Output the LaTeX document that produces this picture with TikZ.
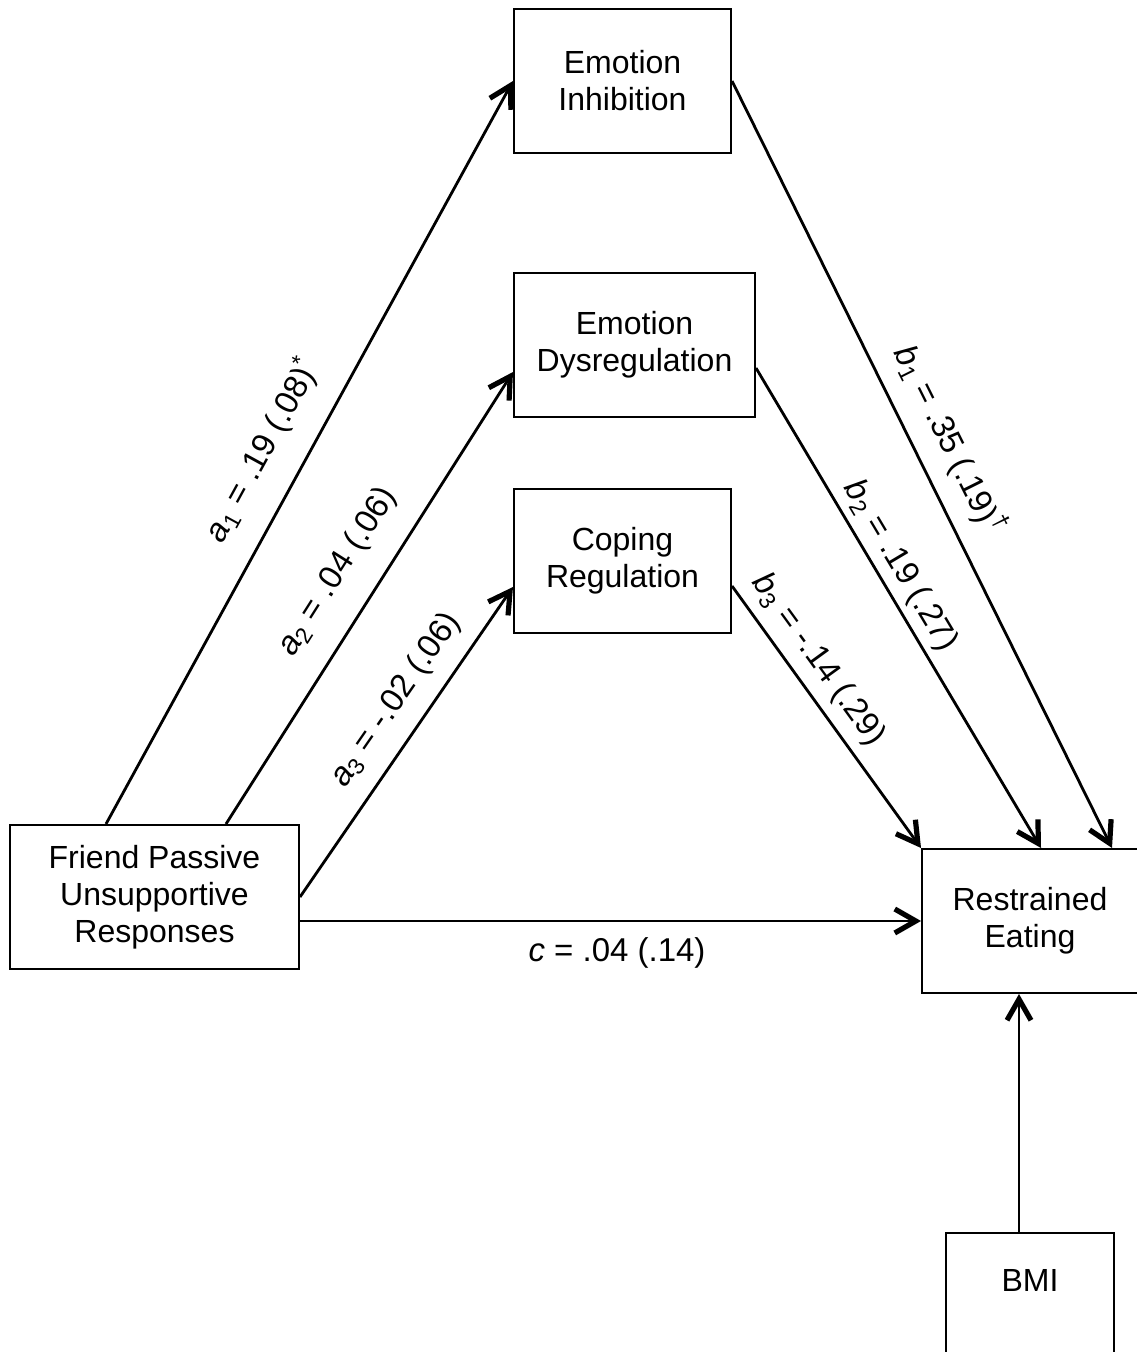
\documentclass[tikz,border=0pt]{standalone}
\usepackage{fontspec}
\setmainfont{Liberation Sans}
\usetikzlibrary{arrows.meta,calc}
\tikzset{
  box/.style={draw, line width=1pt, align=center, inner sep=0pt,
    font=\fontsize{16pt}{18.5pt}\selectfont},
  arr/.style={line width=1.4pt, -{Straight Barb[length=10.5pt,width=12pt,line width=2.6pt]}},
  lab/.style={inner sep=0pt, font=\fontsize{16.5pt}{19pt}\selectfont}
}
\begin{document}
\begin{tikzpicture}[x=0.5pt,y=-0.5pt]
\useasboundingbox (0,0) rectangle (1136,1352);
% nodes
\node[box, minimum width=108.5pt, minimum height=72pt] (ei) at (622.5,81) {Emotion\\Inhibition};
\node[box, minimum width=120.5pt, minimum height=72pt] (ed) at (634.5,345) {Emotion\\Dysregulation};
\node[box, minimum width=108.5pt, minimum height=72pt] (cr) at (622.5,561) {Coping\\Regulation};
\node[box, minimum width=144.5pt, minimum height=72pt] (fr) at (154.5,897) {Friend Passive\\Unsupportive\\Responses};
\node[box, minimum width=108pt, minimum height=72pt] (re) at (1030,921) {Restrained\\Eating};
\node[box, minimum width=84pt, minimum height=72pt] (bmi) at (1030,1305) {BMI\\\strut};
% connectors
\draw[arr] ($(fr.north west)+(97,0)$) -- (ei.west);
\draw[arr] ($(fr.north west)+(217,0)$) -- ($(ed.west)+(0,27)$);
\draw[arr] (fr.east) -- ($(cr.west)+(0,26)$);
\draw[arr] ($(fr.east)+(0,24)$) -- (re.west);
\draw[arr] (ei.east) -- ($(re.north west)+(191,0)$);
\draw[arr] ($(ed.east)+(0,23)$) -- ($(re.north west)+(120,0)$);
\draw[arr] ($(cr.east)+(0,25)$) -- (re.north west);
\draw[arr] ($(bmi.north)+(-11,0)$) -- ($(re.south)+(-11,0)$);
% labels
\node[lab, rotate=61.3] (la1) at (262,450) {\textit{a}\textsubscript{1} = .19 (.08)\textsuperscript{*}};
\node[lab, rotate=57.6] (la2) at (338,572) {\textit{a}\textsubscript{2} = .04 (.06)};
\node[lab, rotate=55.3] (la3) at (396,700) {\textit{a}\textsubscript{3} = -.02 (.06)};
\node[lab, rotate=-63.5] (lb1) at (950,440) {\textit{b}\textsubscript{1} = .35 (.19)\textsuperscript{†}};
\node[lab, rotate=-59.2] (lb2) at (900,566) {\textit{b}\textsubscript{2} = .19 (.27)};
\node[lab, rotate=-54.0] (lb3) at (818,660) {\textit{b}\textsubscript{3} = -.14 (.29)};
\node[lab] (lc) at (617,953) {\textit{c} = .04 (.14)};
\end{tikzpicture}
\end{document}
